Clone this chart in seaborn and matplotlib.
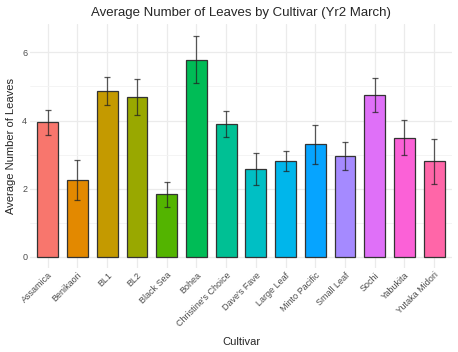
import matplotlib
matplotlib.use('Agg')
import matplotlib.pyplot as plt
import seaborn as sns
import pandas as pd

cultivars = ['Assamica', 'Benikaori', 'BL1', 'BL2', 'Black Sea', 'Bohea',
             "Christine's Choice", "Dave's Fave", 'Large Leaf', 'Minto Pacific',
             'Small Leaf', 'Sochi', 'Yabukita', 'Yutaka Midori']
mean_leaves = [3.95, 2.26, 4.86, 4.68, 1.83, 5.79, 3.90, 2.59, 2.81, 3.30,
               2.96, 4.75, 3.50, 2.81]
se_leaves = [0.37, 0.58, 0.41, 0.53, 0.37, 0.69, 0.38, 0.47, 0.30, 0.57,
             0.41, 0.49, 0.51, 0.66]
colors = ['#F8766D', '#E38900', '#C49A00', '#99A800', '#53B400', '#00BC56',
          '#00C094', '#00BFC4', '#00B6EB', '#06A4FF', '#A58AFF', '#DF70F8',
          '#FB61D7', '#FF66A8']

df = pd.DataFrame({'Cultivar': cultivars, 'Mean': mean_leaves, 'SE': se_leaves})

sns.set_style('white')
plt.rcParams['font.family'] = ['Liberation Sans', 'DejaVu Sans']

fig = plt.figure(figsize=(4.58, 3.52), dpi=100)
ax = fig.add_axes([0.0653, 0.239, 0.9217, 0.692])

sns.barplot(data=df, x='Cultivar', y='Mean', hue='Cultivar', palette=colors,
            saturation=1, width=0.7, edgecolor='#333333', linewidth=0.9,
            legend=False, ax=ax, zorder=2)
ax.errorbar(range(len(cultivars)), df['Mean'], yerr=df['SE'], fmt='none',
            ecolor='#222222', elinewidth=0.9, capsize=2.5, capthick=0.9,
            alpha=0.75, zorder=3)

ax.set_xlim(-0.6, len(cultivars) - 0.4)
ax.set_ylim(-0.325, 6.825)
ax.set_yticks([0, 2, 4, 6])
ax.set_yticks([1, 3, 5], minor=True)
ax.grid(True, which='major', color='#EBEBEB', linewidth=0.9, zorder=0)
ax.grid(True, which='minor', axis='y', color='#F3F3F3', linewidth=0.6, zorder=0)
ax.set_axisbelow(True)
for s in ax.spines.values():
    s.set_visible(False)
ax.tick_params(axis='both', which='both', length=0, labelsize=6.5,
               labelcolor='#4D4D4D', pad=2)
plt.setp(ax.get_xticklabels(), rotation=45, ha='right', rotation_mode='anchor')

ax.set_title('Average Number of Leaves by Cultivar (Yr2 March)', fontsize=9.5,
             pad=6)
ax.set_xlabel('Cultivar', fontsize=8, labelpad=6)
ax.set_ylabel('Average Number of Leaves', fontsize=8, labelpad=4)

fig.savefig('out.png', dpi=100)
